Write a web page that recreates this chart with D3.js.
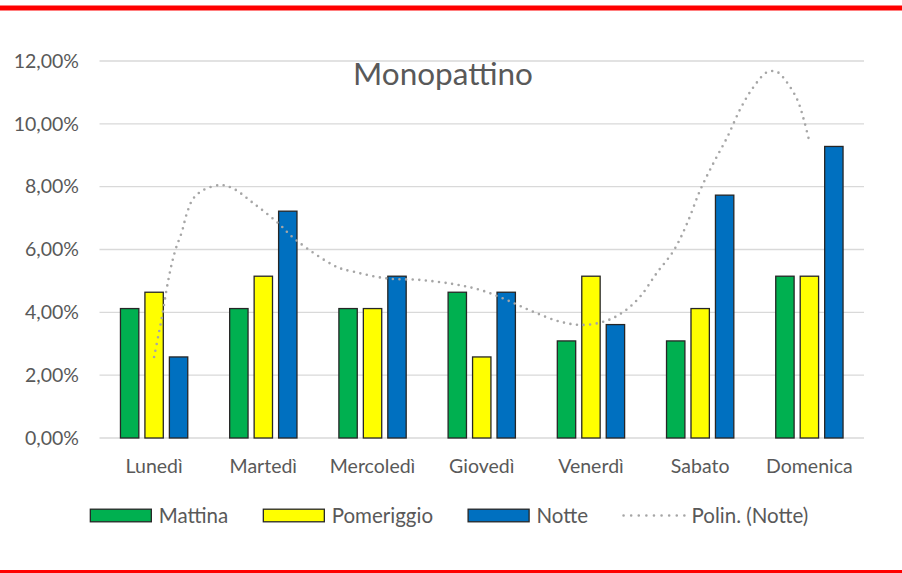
<!DOCTYPE html>
<html>
<head>
<meta charset="utf-8">
<script src="https://cdn.jsdelivr.net/npm/d3@7"></script>
<style>
  body { margin: 0; background: #fff; }
  text { font-family: Lato, "Open Sans", sans-serif; fill: #595959; }
</style>
</head>
<body>
<script>
var width = 902,
    height = 573;

var days = ['Lunedì', 'Martedì', 'Mercoledì', 'Giovedì', 'Venerdì', 'Sabato', 'Domenica'];
var seriesNames = ['Mattina', 'Pomeriggio', 'Notte'];
var mattina = [0.0412, 0.0412, 0.0412, 0.0464, 0.0309, 0.0309, 0.0515];
var pomeriggio = [0.0464, 0.0515, 0.0412, 0.0258, 0.0515, 0.0412, 0.0515];
var notte = [0.0258, 0.0722, 0.0515, 0.0464, 0.0361, 0.0773, 0.0928];
var colors = ['#00b050', '#ffff00', '#0070c0'];
var yTicks = [0, 0.02, 0.04, 0.06, 0.08, 0.10, 0.12];

// trendline "Polin. (Notte)": position in categories, value
var trendPos = [0, 0.04, 0.077, 0.108, 0.136, 0.166, 0.20, 0.255, 0.30, 0.36, 0.45, 0.605, 0.72, 0.91,
    1.12, 1.30, 1.67, 1.83, 2.13, 2.44, 2.74, 2.99, 3.23, 3.47, 3.72, 3.93, 4.14, 4.30, 4.45,
    4.60, 4.76, 4.88, 5.00, 5.12, 5.25, 5.37, 5.49, 5.61, 5.70, 5.79, 5.89, 5.95, 6.00];
var trendVal = [2.58, 3.28, 3.95, 4.61, 5.13, 5.61, 6.04, 6.57, 7.15, 7.63, 7.89, 8.05, 7.95, 7.47,
    6.89, 6.30, 5.45, 5.29, 5.08, 5.03, 4.90, 4.71, 4.39, 4.02, 3.70, 3.60, 3.73, 4.02, 4.50,
    5.24, 5.98, 6.83, 7.89, 8.74, 9.59, 10.49, 11.18, 11.64, 11.66, 11.34, 10.76, 10.12, 9.43];

var plot = {left: 99.5, right: 864, top: 61, bottom: 438};

var svg = d3.select('body')
    .append('svg')
    .attr('width', width)
    .attr('height', height);

// red frame lines
svg.append('rect').attr('x', 0).attr('y', 5.5).attr('width', width).attr('height', 5).attr('fill', '#ff0000');
svg.append('rect').attr('x', 0).attr('y', 570).attr('width', width).attr('height', 3).attr('fill', '#ff0000');

var x0 = d3.scaleBand()
    .domain(days)
    .range([plot.left, plot.right]);

var x1 = d3.scaleBand()
    .domain(seriesNames)
    .range([-34.25, 34.25])
    .paddingInner(0.2);

var yScale = d3.scaleLinear()
    .domain([0, 0.12])
    .range([plot.bottom, plot.top]);

var fmt = function(d) { return d3.format('.2f')(d * 100).replace('.', ',') + '%'; };

// gridlines
svg.selectAll('.grid')
    .data(yTicks)
    .enter()
    .append('line')
    .attr('x1', plot.left)
    .attr('x2', plot.right)
    .attr('y1', function(d) { return yScale(d); })
    .attr('y2', function(d) { return yScale(d); })
    .style('stroke', '#d9d9d9')
    .style('stroke-width', 1.3);

// y axis labels
var yAxis = d3.axisLeft(yScale).tickValues(yTicks).tickFormat(fmt).tickSize(0).tickPadding(0);
var yg = svg.append('g')
    .attr('transform', 'translate(79,0)')
    .call(yAxis);
yg.select('.domain').remove();
yg.selectAll('text')
    .style('font-size', '19.5px')
    .style('fill', '#595959')
    .style('font-family', 'Lato, sans-serif');

// x axis labels
var xAxis = d3.axisBottom(x0).tickSize(0).tickPadding(0);
var xg = svg.append('g')
    .attr('transform', 'translate(0,' + plot.bottom + ')')
    .call(xAxis);
xg.select('.domain').remove();
xg.selectAll('text')
    .attr('dy', null)
    .attr('y', 35)
    .style('font-size', '19.5px')
    .style('fill', '#595959')
    .style('font-family', 'Lato, sans-serif');

// bars
var table = days.map(function(d, i) {
    return {day: d, values: [mattina[i], pomeriggio[i], notte[i]]};
});

var groups = svg.selectAll('.day')
    .data(table)
    .enter()
    .append('g')
    .attr('transform', function(d) { return 'translate(' + (x0(d.day) + x0.bandwidth() / 2) + ',0)'; });

groups.selectAll('rect')
    .data(function(d) { return d.values.map(function(v, j) { return {name: seriesNames[j], value: v, j: j}; }); })
    .enter()
    .append('rect')
    .attr('x', function(d) { return x1(d.name) + 0.6; })
    .attr('width', x1.bandwidth() - 1.2)
    .attr('y', function(d) { return yScale(d.value); })
    .attr('height', function(d) { return plot.bottom - yScale(d.value); })
    .attr('fill', function(d) { return colors[d.j]; })
    .style('stroke', '#262626')
    .style('stroke-width', 1.3);

// trendline
var trendX = d3.scaleLinear()
    .domain([0, 6])
    .range([x0(days[0]) + x0.bandwidth() / 2, x0(days[6]) + x0.bandwidth() / 2]);

var line = d3.line()
    .x(function(d) { return trendX(d[0]); })
    .y(function(d) { return yScale(d[1] / 100); })
    .curve(d3.curveCatmullRom);

svg.append('path')
    .datum(trendPos.map(function(p, i) { return [p, trendVal[i]]; }))
    .attr('d', line)
    .attr('fill', 'none')
    .style('stroke', '#a6a6a6')
    .style('stroke-width', 2.6)
    .style('stroke-linecap', 'round')
    .style('stroke-dasharray', '0,6.6');

// title
svg.append('text')
    .attr('x', 443)
    .attr('y', 85)
    .attr('text-anchor', 'middle')
    .style('font-size', '31.5px')
    .text('Monopattino');

// legend
var legendItems = seriesNames.concat(['Polin. (Notte)']);
var legend = svg.append('g');
var lx = 0;
legendItems.forEach(function(name, i) {
    var g = legend.append('g').attr('transform', 'translate(' + lx + ',0)');
    if (i < 3) {
        g.append('rect')
            .attr('x', 0.6).attr('y', -6.3)
            .attr('width', 61).attr('height', 12.6)
            .attr('fill', colors[i])
            .style('stroke', '#262626')
            .style('stroke-width', 1.3);
    } else {
        g.append('line')
            .attr('x1', 1).attr('x2', 62)
            .attr('y1', 0).attr('y2', 0)
            .style('stroke', '#a6a6a6')
            .style('stroke-width', 2.6)
            .style('stroke-linecap', 'round')
            .style('stroke-dasharray', '0,7.6');
    }
    var t = g.append('text')
        .attr('x', 69)
        .attr('y', 7)
        .style('font-size', '20.5px')
        .text(name);
    lx += 69 + t.node().getComputedTextLength() + 34.5;
});
var legendW = lx - 34.5;
legend.attr('transform', 'translate(' + (449 - legendW / 2) + ',515.5)');
</script>
</body>
</html>
